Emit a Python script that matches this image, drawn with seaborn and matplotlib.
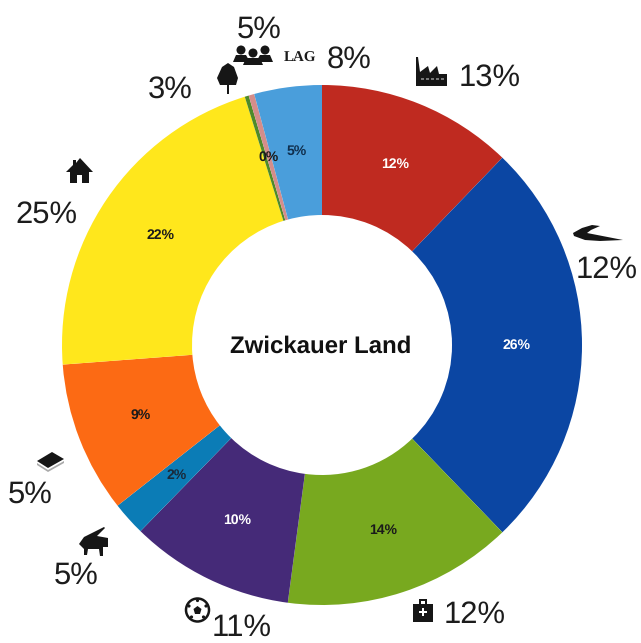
import matplotlib
matplotlib.use("Agg")
import matplotlib.pyplot as plt
from matplotlib.patches import Circle, Polygon, Rectangle
import seaborn as sns

# slices, clockwise from 12 o'clock
slice_values = [12.2, 25.6, 14.3, 10.2, 2.1, 9.4, 21.4, 0.25, 0.35, 4.2]
slice_labels = ["12%", "26%", "14%", "10%", "2%", "9%", "22%", "", "0%", "5%"]
slice_colors = ["#BF2A20", "#0B46A3", "#78A91F", "#452A78", "#0B7CB6",
                "#FC6A14", "#FFE71C", "#4E8A2A", "#D58D8A", "#4A9EDB"]
label_colors = ["white", "white", "#1a1a1a", "white", "#1a2a3a",
                "#1a1a1a", "#1a1a1a", "#1a1a1a", "#1a1a1a", "#10304f"]

# outer percentages (x centre, baseline y)
outer_labels = ["5%", "8%", "13%", "12%", "12%", "11%", "5%", "5%", "25%", "3%"]
outer_x = [259, 349, 490, 607, 475, 242, 76, 30, 46, 170]
outer_y = [38, 68, 86, 278, 623, 636, 584, 503, 223, 98]

center_title = "Zwickauer Land"

sns.set_theme(style="white")
plt.rcParams["font.family"] = ["Liberation Sans", "DejaVu Sans"]
plt.rcParams["text.hinting"] = "no_hinting"
plt.rcParams["text.hinting_factor"] = 1

W, H = 641, 643
fig = plt.figure(figsize=(W / 100, H / 100), dpi=100)

# pie axes, sized so the ring sits where it does in the reference
cx, cy, r = 322, 345, 260
ax = fig.add_axes([(cx - r) / W, 1 - (cy + r) / H, 2 * r / W, 2 * r / H])
label_iter = iter(slice_labels)
wedges, texts, autotexts = ax.pie(
    slice_values,
    colors=sns.color_palette(slice_colors, len(slice_colors)),
    startangle=90,
    counterclock=False,
    radius=1,
    wedgeprops={"width": 0.5, "linewidth": 0},
    autopct=lambda p: next(label_iter),
    pctdistance=0.75,
)
for t, c in zip(autotexts, label_colors):
    t.set_color(c)
    t.set_fontsize(10)
    t.set_fontweight("bold")
ax.set_xlim(-1, 1)
ax.set_ylim(-1, 1)
ax.text(-0.006, -0.005, center_title, ha="center", va="center",
        fontsize=17.5, fontweight="bold", color="#111111")

# overlay in pixel coords for the outer text and icons
ov = fig.add_axes([0, 0, 1, 1])
ov.set_xlim(0, W)
ov.set_ylim(H, 0)
ov.axis("off")
ov.patch.set_alpha(0)

for x, y, s in zip(outer_x, outer_y, outer_labels):
    ov.text(x, y, s, ha="center", va="baseline", fontsize=22.5, color="#1c1c1c")
ov.text(300, 62, "LAG", ha="center", va="baseline", fontsize=10.5,
        fontweight="bold", family="Liberation Serif", color="#1c1c1c")

ink = "#161616"

def poly(points, color=ink):
    ov.add_patch(Polygon(points, closed=True, fc=color, ec="none"))

def rect(x, y, w, h, color=ink):
    ov.add_patch(Rectangle((x, y), w, h, fc=color, ec="none"))

def dot(x, y, rad, color=ink):
    ov.add_patch(Circle((x, y), rad, fc=color, ec="none"))

# factory
poly([(416, 86), (416, 57), (418, 57), (420, 72), (428, 66), (430, 73), (437, 66),
      (439, 74), (447, 74), (447, 86)])
for wx in range(421, 445, 5):
    rect(wx, 78, 2.5, 2, color="#777777")
# people
for x, y, rad in [(241, 50, 4.5), (265, 50, 4.5), (253, 53, 4.5)]:
    dot(x, y, rad)
poly([(233, 62), (236, 55), (246, 55), (250, 62)])
poly([(256, 62), (260, 55), (270, 55), (273, 62)])
poly([(243, 65), (246, 58), (260, 58), (263, 65)])
# tree
poly([(228, 63), (234, 67), (238, 78), (236, 85), (220, 85), (217, 78), (222, 67)])
rect(226.5, 85, 2.5, 9)
# house
poly([(66, 172), (73, 165), (73, 160), (76, 160), (76, 163), (80, 158), (93, 172),
      (89, 172), (89, 183), (82, 183), (82, 175), (77, 175), (77, 183), (70, 183), (70, 172)])
# book
poly([(37, 461), (52, 452), (64, 459), (48, 468)])
poly([(37, 463), (48, 470), (64, 461), (64, 463), (48, 472), (37, 465)], color="#aaaaaa")
# piano
poly([(79, 544), (84, 537), (104, 527), (105, 528), (97, 536), (108, 538), (108, 547),
      (103, 547), (103, 556), (100, 556), (99, 549), (88, 549), (87, 555), (84, 555), (84, 549)])
# football
ov.add_patch(Circle((197.5, 610), 11.5, fc="white", ec=ink, lw=1.8))
poly([(197.5, 606), (201.5, 609), (200, 614), (195, 614), (193.5, 609)])
for x, y in [(197.5, 600.5), (206, 606), (203.5, 617), (191.5, 617), (189, 606)]:
    dot(x, y, 1.6)
# briefcase
rect(413, 604, 20, 18)
rect(419, 599, 8, 2)
rect(419, 599, 2, 6)
rect(425, 599, 2, 6)
rect(419, 611, 8, 2, color="white")
rect(422, 608, 2, 8, color="white")
# swoosh
poly([(573, 233), (582, 228), (592, 225), (600, 226), (591, 230), (587, 233), (623, 240),
      (600, 241), (585, 240), (574, 236)])

fig.savefig("out.png", dpi=100)
